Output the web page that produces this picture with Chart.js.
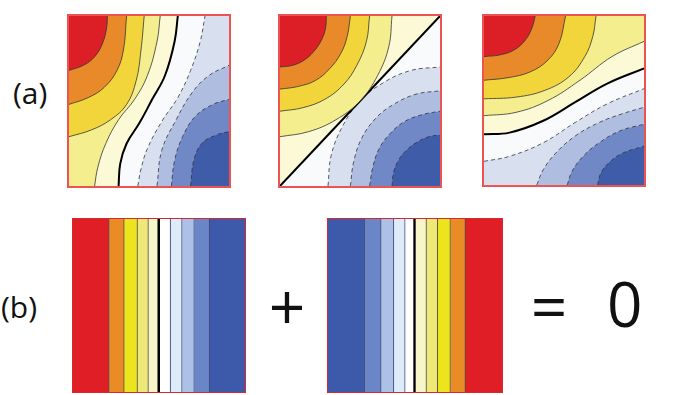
<!DOCTYPE html>
<html>
<head>
<meta charset="utf-8">
<script src="https://cdn.jsdelivr.net/npm/chart.js@4"></script>
<style>
  html, body { margin: 0; padding: 0; background: #fff; }
  body { width: 673px; height: 395px; position: relative; overflow: hidden; font-family: "Open Sans", "Noto Sans", sans-serif; color: #111; }
  .panel { position: absolute; box-sizing: border-box; }
  .panel.a { border: 2px solid #ec5454; }
  .panel.b { border: 1.5px solid #d8282f; }
  .panel canvas { display: block; }
  .txt { position: absolute; line-height: 1; white-space: nowrap; }
</style>
</head>
<body>
<div class="panel a" style="left:67px;top:14px;width:164px;height:174px"><canvas id="a1"></canvas></div>
<div class="panel a" style="left:278px;top:14px;width:164px;height:174px"><canvas id="a2"></canvas></div>
<div class="panel a" style="left:482px;top:14px;width:164px;height:173px"><canvas id="a3"></canvas></div>
<div class="panel b" style="left:72px;top:218px;width:174px;height:175px"><canvas id="b1"></canvas></div>
<div class="panel b" style="left:327px;top:218px;width:176px;height:175px"><canvas id="b2"></canvas></div>

<div class="txt" style="left:13px;top:78px;font-size:30px">(a)</div>
<div class="txt" style="left:1px;top:292px;font-size:30px">(b)</div>
<div class="txt" style="left:247px;top:274px;width:80px;text-align:center;font-size:64px">+</div>
<div class="txt" style="left:509px;top:274px;width:80px;text-align:center;font-size:64px">=</div>
<div class="txt" style="left:607px;top:272px;font-size:62px">0</div>

<script>
// contour lines, [x, y] with 0..1 across each box (y up)
// panel a1: curves are x as a function of y
const a1Red = [[0, 0.68], [0.09, 0.71], [0.16, 0.76], [0.21, 0.84], [0.235, 0.93], [0.24, 1]];
const a1Orange = [[0, 0.48], [0.12, 0.52], [0.22, 0.58], [0.30, 0.68], [0.34, 0.80], [0.36, 1]];
const a1Yellow = [[0, 0.29], [0.14, 0.33], [0.26, 0.39], [0.36, 0.48], [0.42, 0.62], [0.45, 0.80], [0.47, 1]];
const a1Light = [[0.16, 0], [0.18, 0.11], [0.23, 0.25], [0.31, 0.39], [0.41, 0.51], [0.49, 0.65], [0.55, 0.85], [0.57, 1]];
const a1Zero = [[0.31, 0], [0.32, 0.13], [0.36, 0.25], [0.44, 0.37], [0.52, 0.51], [0.60, 0.65], [0.66, 0.85], [0.68, 1]];
const a1Blue1 = [[0.43, 0], [0.45, 0.10], [0.49, 0.22], [0.58, 0.38], [0.68, 0.52], [0.76, 0.68], [0.82, 0.85], [0.85, 1]];
const a1Blue2 = [[0.55, 0], [0.58, 0.21], [0.67, 0.39], [0.77, 0.55], [0.875, 0.65], [1, 0.71]];
const a1Blue3 = [[0.64, 0], [0.66, 0.15], [0.71, 0.29], [0.79, 0.41], [0.90, 0.48], [1, 0.51]];
const a1Blue4 = [[0.76, 0], [0.78, 0.15], [0.83, 0.25], [0.92, 0.30], [1, 0.32]];

// panel a2: y as a function of x
const a2Red = [[0, 0.70], [0.08, 0.71], [0.15, 0.74], [0.21, 0.79], [0.26, 0.86], [0.285, 0.93], [0.29, 1]];
const a2Orange = [[0, 0.57], [0.11, 0.585], [0.22, 0.62], [0.31, 0.69], [0.38, 0.78], [0.42, 0.88], [0.44, 1]];
const a2Yellow = [[0, 0.44], [0.14, 0.46], [0.28, 0.51], [0.40, 0.60], [0.48, 0.71], [0.54, 0.85], [0.56, 1]];
const a2Light = [[0, 0.29], [0.18, 0.32], [0.35, 0.39], [0.50, 0.50], [0.61, 0.65], [0.68, 0.82], [0.70, 1]];
const a2Zero = [[0, 0], [1, 1]];
const a2Blue1 = [[0.30, 0], [0.32, 0.18], [0.39, 0.35], [0.50, 0.50], [0.65, 0.61], [0.82, 0.68], [1, 0.70]];
const a2Blue2 = [[0.44, 0], [0.46, 0.14], [0.51, 0.28], [0.60, 0.40], [0.71, 0.48], [0.85, 0.54], [1, 0.56]];
const a2Blue3 = [[0.56, 0], [0.58, 0.11], [0.62, 0.22], [0.69, 0.31], [0.78, 0.38], [0.89, 0.42], [1, 0.44]];
const a2Blue4 = [[0.70, 0], [0.71, 0.08], [0.74, 0.15], [0.79, 0.21], [0.86, 0.26], [0.93, 0.29], [1, 0.30]];

// panel a3: y as a function of x
const a3Red = [[0, 0.76], [0.10, 0.77], [0.19, 0.80], [0.26, 0.86], [0.30, 0.93], [0.32, 1]];
const a3Orange = [[0, 0.62], [0.15, 0.635], [0.29, 0.67], [0.40, 0.74], [0.47, 0.84], [0.51, 1]];
const a3Yellow = [[0, 0.51], [0.20, 0.52], [0.38, 0.56], [0.53, 0.64], [0.63, 0.76], [0.68, 0.88], [0.70, 1]];
const a3Light = [[0, 0.41], [0.20, 0.43], [0.40, 0.50], [0.60, 0.62], [0.80, 0.76], [1, 0.85]];
const a3Zero = [[0, 0.30], [0.16, 0.31], [0.37, 0.38], [0.57, 0.49], [0.77, 0.60], [1, 0.69]];
const a3Blue1 = [[0, 0.14], [0.16, 0.17], [0.37, 0.25], [0.57, 0.37], [0.77, 0.48], [1, 0.57]];
const a3Blue2 = [[0.33, 0], [0.37, 0.09], [0.45, 0.19], [0.57, 0.29], [0.72, 0.37], [0.86, 0.42], [1, 0.46]];
const a3Blue3 = [[0.52, 0], [0.55, 0.08], [0.62, 0.17], [0.72, 0.25], [0.85, 0.32], [1, 0.36]];
const a3Blue4 = [[0.71, 0], [0.73, 0.07], [0.79, 0.14], [0.87, 0.19], [1, 0.23]];

// panel b: stripe widths, left to right
const b1Levels = ['red', 'orange', 'yellow', 'light', 'pale', 'white', 'blue1', 'blue2', 'blue3', 'blue4'];
const b1Widths = [110, 45, 40, 33, 34, 33, 35, 37, 46, 107];
const b2Levels = ['blue4', 'blue3', 'blue2', 'blue1', 'white', 'pale', 'light', 'yellow', 'orange', 'red'];
const b2Widths = [110, 50, 38, 34, 31, 33, 34, 38, 45, 110];

const contourColors = {
    red: '#dc1f26', orange: '#e98a2a', yellow: '#f1d53a', light: '#f4ee8e', pale: '#fbf9d6',
    white: '#f8fafc', blue1: '#d8e0f0', blue2: '#aebde0', blue3: '#7088c6', blue4: '#3f5ca9'
};
const stripeColors = {
    red: '#e01e26', orange: '#e98c25', yellow: '#ece41d', light: '#eee878', pale: '#f7f6c8',
    white: '#ffffff', blue1: '#deebf9', blue2: '#abc1e5', blue3: '#6b86c6', blue4: '#3c5aa9'
};

const pts = arr => arr.map(p => ({ x: p[0], y: p[1] }));

function contour(data, level, toValue, kind) {
    return {
        data: pts(data),
        backgroundColor: contourColors[level],
        fill: { value: toValue },
        borderColor: kind === 'zero' ? '#000' : '#333',
        borderWidth: kind === 'zero' ? 2 : 0.8,
        borderDash: kind === 'dash' ? [4, 3] : [],
        pointRadius: 0,
        tension: 0.4
    };
}

const panelBg = {
    id: 'panelBg',
    beforeDraw(chart) {
        const { ctx, chartArea: a } = chart;
        ctx.save();
        ctx.fillStyle = contourColors.white;
        ctx.fillRect(a.left, a.top, a.width, a.height);
        ctx.restore();
    }
};

function contourChart(id, indexAxis, datasets) {
    new Chart(document.getElementById(id), {
        type: 'line',
        data: { datasets: datasets },
        options: {
            indexAxis: indexAxis,
            animation: false,
            responsive: true,
            maintainAspectRatio: false,
            events: [],
            layout: { padding: 0 },
            plugins: { legend: { display: false }, tooltip: { enabled: false } },
            scales: {
                x: { type: 'linear', min: 0, max: 1, display: false },
                y: { type: 'linear', min: 0, max: 1, display: false }
            }
        },
        plugins: [panelBg]
    });
}

// first dataset is drawn on top, so inner regions come first
// a1: warm side fills to the left edge, cool side to the right edge
contourChart('a1', 'y', [
    contour(a1Red, 'red', 0, 'solid'),
    contour(a1Orange, 'orange', 0, 'solid'),
    contour(a1Yellow, 'yellow', 0, 'solid'),
    contour(a1Light, 'light', 0, 'solid'),
    contour(a1Zero, 'pale', 0, 'zero'),
    contour(a1Blue4, 'blue4', 1, 'dash'),
    contour(a1Blue3, 'blue3', 1, 'dash'),
    contour(a1Blue2, 'blue2', 1, 'dash'),
    contour(a1Blue1, 'blue1', 1, 'dash')
]);

contourChart('a2', 'x', [
    contour(a2Red, 'red', 1, 'solid'),
    contour(a2Orange, 'orange', 1, 'solid'),
    contour(a2Yellow, 'yellow', 1, 'solid'),
    contour(a2Light, 'light', 1, 'solid'),
    contour(a2Zero, 'pale', 1, 'zero'),
    contour(a2Blue4, 'blue4', 0, 'dash'),
    contour(a2Blue3, 'blue3', 0, 'dash'),
    contour(a2Blue2, 'blue2', 0, 'dash'),
    contour(a2Blue1, 'blue1', 0, 'dash')
]);

contourChart('a3', 'x', [
    contour(a3Red, 'red', 1, 'solid'),
    contour(a3Orange, 'orange', 1, 'solid'),
    contour(a3Yellow, 'yellow', 1, 'solid'),
    contour(a3Light, 'light', 1, 'solid'),
    contour(a3Zero, 'pale', 1, 'zero'),
    contour(a3Blue4, 'blue4', 0, 'dash'),
    contour(a3Blue3, 'blue3', 0, 'dash'),
    contour(a3Blue2, 'blue2', 0, 'dash'),
    contour(a3Blue1, 'blue1', 0, 'dash')
]);

function stripeChart(id, levels, widths) {
    const total = widths.reduce((s, w) => s + w, 0);
    const zeroAt = levels.length / 2 - 1;
    new Chart(document.getElementById(id), {
        type: 'bar',
        data: {
            labels: [''],
            datasets: levels.map((lv, i) => ({
                label: lv,
                data: [widths[i]],
                backgroundColor: stripeColors[lv],
                borderColor: i === zeroAt ? '#000' : (lv.startsWith('blue') || lv === 'white' ? '#34477e' : '#4a4a30'),
                borderWidth: { left: 0, top: 0, bottom: 0, right: i === levels.length - 1 ? 0 : (i === zeroAt ? 2.5 : 1) },
                borderSkipped: false,
                barPercentage: 1,
                categoryPercentage: 1
            }))
        },
        options: {
            indexAxis: 'y',
            animation: false,
            responsive: true,
            maintainAspectRatio: false,
            events: [],
            layout: { padding: 0 },
            plugins: { legend: { display: false }, tooltip: { enabled: false } },
            scales: {
                x: { stacked: true, min: 0, max: total, display: false },
                y: { stacked: true, display: false }
            }
        }
    });
}

stripeChart('b1', b1Levels, b1Widths);
stripeChart('b2', b2Levels, b2Widths);
</script>
</body>
</html>
